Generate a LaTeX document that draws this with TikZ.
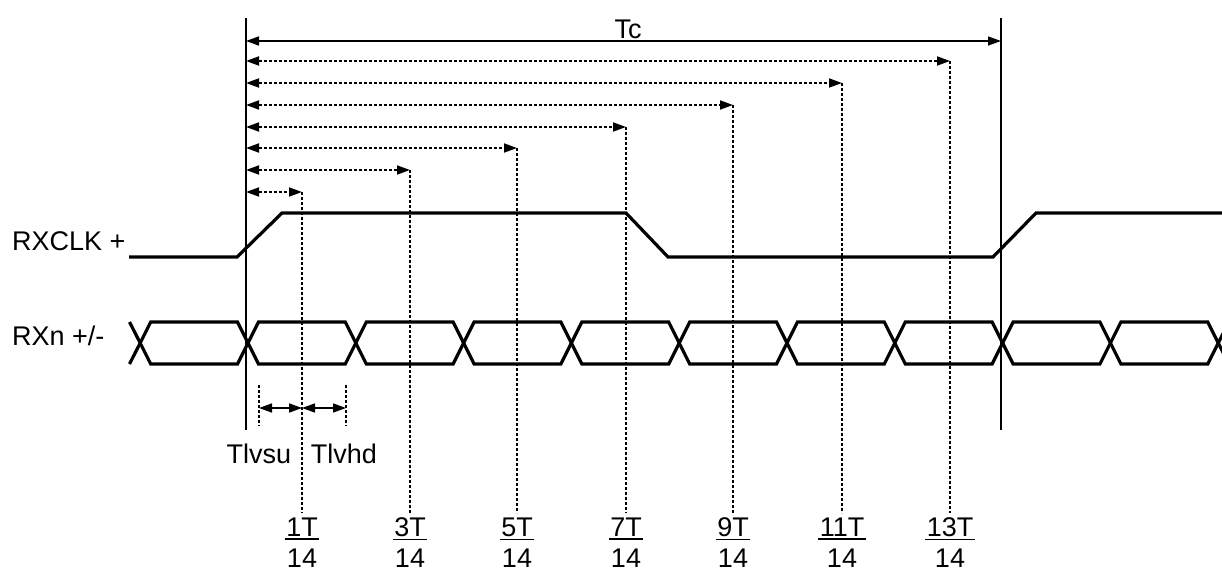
\documentclass[tikz,border=0pt]{standalone}
\usepackage{fontspec}
\setmainfont{Liberation Sans}
\usetikzlibrary{arrows.meta}
\begin{document}
\begin{tikzpicture}[x=1pt,y=-1pt,
  sig/.style={line width=3.2pt, line join=miter},
  bound/.style={line width=1.7pt},
  dimarrow/.style={line width=1.5pt,{Triangle[length=13pt,width=9pt]}-{Triangle[length=13pt,width=9pt]}},
  dots/.style={line width=1.8pt, dash pattern=on 3pt off 2pt},
  dotarrow/.style={dots,{Triangle[length=13pt,width=9pt]}-{Triangle[length=13pt,width=9pt]}},
  fracbar/.style={line width=1.7pt},
  lbl/.style={font=\fontsize{27}{30}\selectfont, inner sep=0pt}
]
\clip (0,0) rectangle (1222,572);
\fill[white] (0,0) rectangle (1222,572);

% period boundaries
\coordinate (Lt) at (246,18); \coordinate (Lb) at (246,430);
\coordinate (Rt) at (1001,18); \coordinate (Rb) at (1001,430);
\draw[bound] (Lt) -- (Lb);
\draw[bound] (Rt) -- (Rb);

% Tc
\coordinate (tcL) at (246,41); \coordinate (tcR) at (1001,41);
\draw[dimarrow] (tcL) -- (tcR);
\node[lbl,anchor=base] (tc) at (628,39) {Tc};

% fractional sample points
\foreach \x/\y/\n in {302/192/1, 410/170/3, 517/148/5, 626/127/7, 733/105/9, 842/83/11, 950/61/13}{
  \coordinate (s\n) at (246,\y);
  \coordinate (e\n) at (\x,\y);
  \coordinate (b\n) at (\x,513);
  \draw[dotarrow] (s\n) -- (e\n);
  \draw[dots] (e\n) -- (b\n);
  \node[lbl,anchor=base] (num\n) at (\x,536) {\n T};
  \draw[fracbar] ([xshift=-1.5pt,yshift=-3pt]num\n.south west) -- ([xshift=1.5pt,yshift=-3pt]num\n.south east);
  \node[lbl,anchor=base] (den\n) at (\x,567) {14};
}

% clock
\draw[sig] (129,257) -- (237,257) -- (282,213) -- (626,213) -- (668,257) -- (993,257) -- (1036,213) -- (1230,213);
\node[lbl,anchor=base west] (clk) at (12,250) {RXCLK +};

% data
\node[lbl,anchor=base west] (rxn) at (12,345) {RXn +/-};
\foreach \k in {-1,...,8}{
  \pgfmathsetmacro\a{248+107.8*\k}
  \pgfmathsetmacro\b{\a+107.8}
  \draw[sig] (\a,343) -- (\a+10.5,322) -- (\b-10.5,322) -- (\b,343) -- (\b-10.5,364) -- (\a+10.5,364) -- cycle;
}
\draw[sig] (129.5,322) -- (140.2,343) -- (129.5,364);
\draw[sig] (1229,322) -- (1218.2,343) -- (1229,364);

% setup / hold
\coordinate (su1) at (259,385); \coordinate (su2) at (259,426);
\coordinate (hd1) at (346,385); \coordinate (hd2) at (346,426);
\coordinate (suA) at (259,408); \coordinate (mid) at (302,408); \coordinate (hdA) at (346,408);
\draw[dots] (su1) -- (su2);
\draw[dots] (hd1) -- (hd2);
\draw[dimarrow] (suA) -- (mid);
\draw[dimarrow] (mid) -- (hdA);
\node[lbl,anchor=base] (tsu) at (259,463) {Tlvsu};
\node[lbl,anchor=base] (thd) at (344,463) {Tlvhd};
\end{tikzpicture}
\end{document}
